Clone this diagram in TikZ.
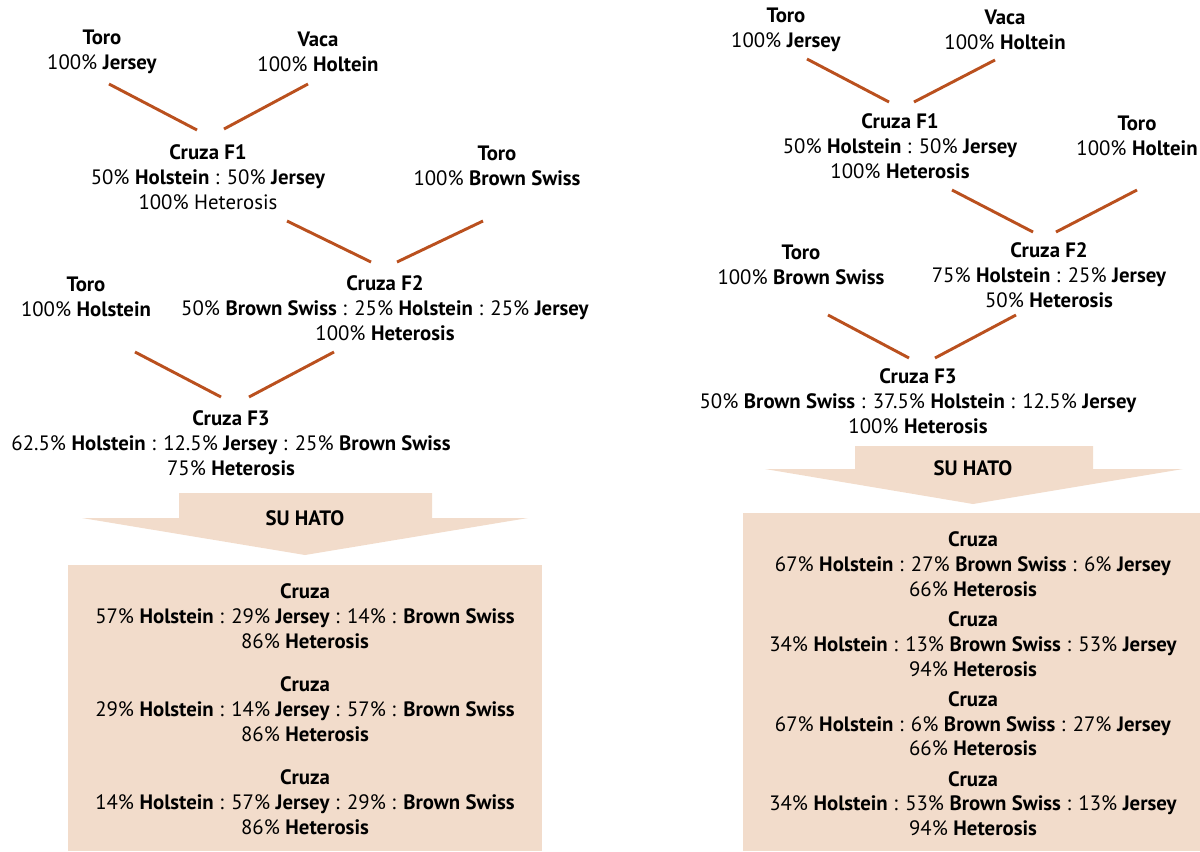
\documentclass[tikz,border=0pt]{standalone}
\usepackage{fontspec}
\setmainfont{PT Sans}
\usetikzlibrary{positioning,calc}
\definecolor{lijnkleur}{RGB}{186,80,30}
\definecolor{hatokleur}{RGB}{242,220,203}

\begin{document}
\begin{tikzpicture}[x=0.75pt,y=-0.75pt,
                    padre/.style={align=center,inner sep=0,font=\fontsize{15.6}{18.6}\selectfont},
                    cruza/.style={padre},
                    linea/.style={draw=lijnkleur,line width=2.2pt},
                    hato/.style={fill=hatokleur,draw=none},
       ]
       \useasboundingbox (0,0) rectangle (1200,851);
       % linker schema
       \node[padre] (toroJ) at (102,51.5) {\textbf{Toro}\\100\% \textbf{Jersey}};
       \node[padre] (vacaH) at (318,51.5) {\textbf{Vaca}\\100\% \textbf{Holtein}};
       \node[cruza] (f1) at (208,177) {\textbf{Cruza F1}\\50\% \textbf{Holstein} : 50\% \textbf{Jersey}\\100\% Heterosis};
       \node[padre] (toroB) at (497,165.5) {\textbf{Toro}\\100\% \textbf{Brown Swiss}};
       \node[cruza] (f2) at (385,308) {\textbf{Cruza F2}\\50\% \textbf{Brown Swiss} : 25\% \textbf{Holstein} : 25\% \textbf{Jersey}\\100\% \textbf{Heterosis}};
       \node[padre] (toroH) at (86,296.5) {\textbf{Toro}\\100\% \textbf{Holstein}};
       \node[cruza] (f3) at (231,443) {\textbf{Cruza F3}\\62.5\% \textbf{Holstein} : 12.5\% \textbf{Jersey} : 25\% \textbf{Brown Swiss}\\75\% \textbf{Heterosis}};
        \draw[linea] ($(toroJ)+(7,32.5)$) -- ($(f1)+(-11,-47)$);
        \draw[linea] ($(vacaH)+(-10,32.5)$) -- ($(f1)+(16,-48)$);
        \draw[linea] ($(f1)+(79,44)$) -- ($(f2)+(-14,-46)$);
        \draw[linea] ($(toroB)+(-14,55.5)$) -- ($(f2)+(12,-46)$);
        \draw[linea] ($(toroH)+(49,55.5)$) -- ($(f3)+(-10,-46)$);
        \draw[linea] ($(f2)+(-51,44)$) -- ($(f3)+(18,-46)$);
       \fill[hato] (179,493) -- (432,493) -- (432,518) -- (528,518) -- (305,555) -- (82,518) -- (179,518) -- cycle;
       \node[padre] (hatoL) at (305,518) {\textbf{SU HATO}};
       \fill[hato] (68,565) rectangle (542,851);
       \node[padre] (cruzasL) at (305,709) {\textbf{Cruza}\\57\% \textbf{Holstein} : 29\% \textbf{Jersey} : 14\% : \textbf{Brown Swiss}\\86\% \textbf{Heterosis}\\[14pt]
            \textbf{Cruza}\\29\% \textbf{Holstein} : 14\% \textbf{Jersey} : 57\% : \textbf{Brown Swiss}\\86\% \textbf{Heterosis}\\[14pt]
            \textbf{Cruza}\\14\% \textbf{Holstein} : 57\% \textbf{Jersey} : 29\% : \textbf{Brown Swiss}\\86\% \textbf{Heterosis}};
       % rechter schema
       \node[padre] (toroJ2) at (786,29.5) {\textbf{Toro}\\100\% \textbf{Jersey}};
       \node[padre] (vacaH2) at (1005,29.5) {\textbf{Vaca}\\100\% \textbf{Holtein}};
       \node[cruza] (f1r) at (900,146.5) {\textbf{Cruza F1}\\50\% \textbf{Holstein} : 50\% \textbf{Jersey}\\100\% \textbf{Heterosis}};
       \node[padre] (toroH2) at (1137,135.5) {\textbf{Toro}\\100\% \textbf{Holtein}};
       \node[cruza] (f2r) at (1049,275.5) {\textbf{Cruza F2}\\75\% \textbf{Holstein} : 25\% \textbf{Jersey}\\50\% \textbf{Heterosis}};
       \node[padre] (toroB2) at (801,264.5) {\textbf{Toro}\\100\% \textbf{Brown Swiss}};
       \node[cruza] (f3r) at (918,401) {\textbf{Cruza F3}\\50\% \textbf{Brown Swiss} : 37.5\% \textbf{Holstein} : 12.5\% \textbf{Jersey}\\100\% \textbf{Heterosis}};
        \draw[linea] ($(toroJ2)+(21,29.5)$) -- ($(f1r)+(-11,-44.5)$);
        \draw[linea] ($(vacaH2)+(-10,30.5)$) -- ($(f1r)+(14,-44.5)$);
        \draw[linea] ($(f1r)+(52,43.5)$) -- ($(f2r)+(-16,-43.5)$);
        \draw[linea] ($(toroH2)+(0,54.5)$) -- ($(f2r)+(7,-43.5)$);
        \draw[linea] ($(toroB2)+(27,50.5)$) -- ($(f3r)+(-9,-43)$);
        \draw[linea] ($(f2r)+(-33,39.5)$) -- ($(f3r)+(17,-43)$);
       \fill[hato] (855,446) -- (1093,446) -- (1093,469) -- (1183,469) -- (973,504) -- (765,469) -- (855,469) -- cycle;
       \node[padre] (hatoR) at (973,468) {\textbf{SU HATO}};
       \fill[hato] (743,513) rectangle (1200,851);
       \node[padre] (cruzasR) at (973,684) {\textbf{Cruza}\\67\% \textbf{Holstein} : 27\% \textbf{Brown Swiss} : 6\% \textbf{Jersey}\\66\% \textbf{Heterosis}\\[4pt]
            \textbf{Cruza}\\34\% \textbf{Holstein} : 13\% \textbf{Brown Swiss} : 53\% \textbf{Jersey}\\94\% \textbf{Heterosis}\\[4pt]
            \textbf{Cruza}\\67\% \textbf{Holstein} : 6\% \textbf{Brown Swiss} : 27\% \textbf{Jersey}\\66\% \textbf{Heterosis}\\[4pt]
            \textbf{Cruza}\\34\% \textbf{Holstein} : 53\% \textbf{Brown Swiss} : 13\% \textbf{Jersey}\\94\% \textbf{Heterosis}};
    \end{tikzpicture}
\end{document}
